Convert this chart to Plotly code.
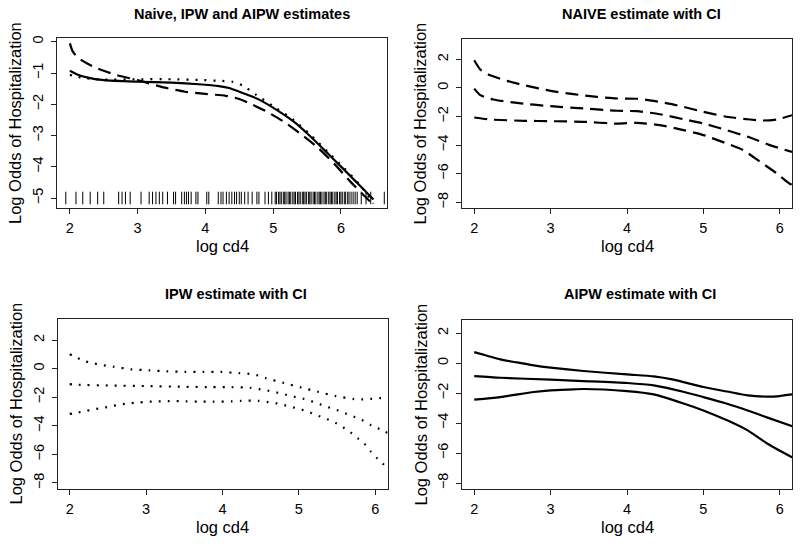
import plotly.graph_objects as go

W, H = 800, 546

# ---------------- data ----------------
x_ticks = [2, 3, 4, 5, 6]
y_ticks_p1 = [0, -1, -2, -3, -4, -5]
y_ticks_ci = [2, 0, -2, -4, -6, -8]

# Panel 1: Naive (dashed), IPW (dotted), AIPW (solid)
naive_x = [2.0, 2.04, 2.1, 2.2, 2.35, 2.5, 2.7, 3.0, 3.4, 3.7, 4.0, 4.3, 4.5, 4.7, 4.9, 5.15, 5.4, 5.65, 5.9, 6.15, 6.4, 6.46]
naive_y = [-0.05, -0.3, -0.47, -0.63, -0.8, -0.93, -1.07, -1.23, -1.47, -1.6, -1.67, -1.73, -1.83, -2.02, -2.23, -2.55, -2.94, -3.37, -3.9, -4.5, -5.05, -5.17]

aipw_x = [2.0, 2.1, 2.25, 2.5, 3.0, 3.5, 3.9, 4.2, 4.35, 4.5, 4.65, 4.8, 5.05, 5.3, 5.55, 5.8, 6.05, 6.3, 6.48]
aipw_y = [-0.93, -1.04, -1.14, -1.23, -1.28, -1.31, -1.36, -1.42, -1.48, -1.6, -1.72, -1.86, -2.18, -2.55, -3.03, -3.56, -4.1, -4.65, -5.05]

ipw_x = [2.0, 2.1, 2.25, 2.45, 3.0, 3.5, 3.9, 4.2, 4.4, 4.55, 4.75, 5.05, 5.3, 5.55, 5.8, 6.05, 6.3, 6.48]
ipw_y = [-1.06, -1.12, -1.17, -1.21, -1.2, -1.2, -1.22, -1.25, -1.28, -1.4, -1.7, -2.13, -2.5, -2.98, -3.51, -4.05, -4.63, -5.18]

rug_level = -5
rug_x = [1.94, 2.09, 2.19, 2.30, 2.41, 2.50,
         2.72, 2.77, 2.82, 2.89, 3.05, 3.17, 3.22, 3.27, 3.32, 3.37, 3.44, 3.53, 3.56,
         3.65, 3.69, 3.72, 3.75, 3.79, 3.86, 3.89, 4.02, 4.05, 4.19, 4.23, 4.26, 4.31,
         4.35, 4.39, 4.43, 4.46, 4.50, 4.53, 4.58, 4.63, 4.69, 4.76, 4.79, 4.88, 4.93,
         4.98, 5.03, 5.05, 5.08, 5.10, 5.12, 5.15, 5.17, 5.19, 5.22, 5.24, 5.26, 5.29,
         5.31, 5.33, 5.36, 5.38, 5.40, 5.43, 5.45, 5.47, 5.49, 5.52, 5.54, 5.56, 5.59,
         5.61, 5.63, 5.66, 5.68, 5.70, 5.72, 5.75, 5.77, 5.79, 5.82, 5.84, 5.86, 5.88,
         5.91, 5.93, 5.95, 5.98, 6.00, 6.02, 6.05, 6.07, 6.10, 6.12, 6.15, 6.18, 6.21,
         6.24, 6.30, 6.37, 6.44, 6.64]

# Panel 2: NAIVE estimate with CI
nv_up_x = [2.0, 2.08, 2.21, 2.43, 2.65, 3.0, 3.3, 3.61, 3.87, 4.13, 4.35, 4.65, 5.0, 5.3, 5.61, 5.78, 5.96, 6.16]
nv_up_y = [1.93, 1.28, 0.88, 0.49, 0.19, -0.21, -0.44, -0.63, -0.74, -0.76, -0.91, -1.21, -1.67, -2.02, -2.21, -2.28, -2.21, -1.91]
nv_mid_x = [2.0, 2.08, 2.25, 2.56, 3.0, 3.43, 3.87, 4.13, 4.43, 4.74, 5.0, 5.3, 5.61, 5.87, 6.16]
nv_mid_y = [-0.05, -0.51, -0.81, -1.05, -1.28, -1.44, -1.6, -1.63, -1.84, -2.19, -2.49, -2.95, -3.47, -4.0, -4.48]
nv_lo_x = [2.0, 2.21, 2.65, 3.0, 3.43, 3.87, 4.13, 4.43, 4.74, 5.0, 5.3, 5.52, 5.74, 5.96, 6.11, 6.16]
nv_lo_y = [-2.07, -2.21, -2.3, -2.33, -2.37, -2.5, -2.44, -2.6, -2.95, -3.3, -3.88, -4.35, -5.16, -5.98, -6.63, -6.8]

# Panel 3: IPW estimate with CI
ip_up_x = [2.0, 2.11, 2.22, 2.33, 2.45, 2.57, 2.8, 3.04, 3.27, 3.51, 3.75, 3.98, 4.22, 4.33, 4.45, 4.57, 4.8, 5.03, 5.25, 5.48, 5.72, 5.83, 5.95, 6.07, 6.16]
ip_up_y = [1.0, 0.72, 0.49, 0.35, 0.23, 0.14, -0.05, -0.12, -0.19, -0.23, -0.23, -0.23, -0.32, -0.35, -0.46, -0.67, -1.0, -1.32, -1.62, -1.92, -2.13, -2.15, -2.11, -2.06, -2.0]
ip_mid_x = [2.0, 2.12, 2.5, 3.0, 3.5, 3.86, 4.12, 4.36, 4.48, 4.6, 4.71, 4.83, 4.94, 5.06, 5.17, 5.28, 5.39, 5.51, 5.62, 5.73, 5.84, 5.94, 6.05, 6.16]
ip_mid_y = [-1.09, -1.13, -1.18, -1.22, -1.27, -1.3, -1.3, -1.34, -1.44, -1.55, -1.67, -1.83, -1.97, -2.11, -2.29, -2.5, -2.71, -2.92, -3.15, -3.38, -3.63, -3.94, -4.21, -4.49]
ip_lo_x = [2.0, 2.12, 2.23, 2.35, 2.47, 2.58, 2.7, 2.81, 2.92, 3.05, 3.17, 3.29, 3.4, 3.52, 3.75, 3.88, 4.12, 4.24, 4.47, 4.59, 4.71, 4.82, 4.94, 5.05, 5.16, 5.27, 5.38, 5.49, 5.59, 5.69, 5.78, 5.87, 5.94, 6.02, 6.11, 6.16]
ip_lo_y = [-3.17, -3.06, -2.94, -2.82, -2.71, -2.59, -2.48, -2.41, -2.36, -2.31, -2.29, -2.27, -2.27, -2.29, -2.31, -2.31, -2.29, -2.25, -2.25, -2.34, -2.43, -2.57, -2.73, -2.89, -3.1, -3.33, -3.56, -3.82, -4.14, -4.51, -4.91, -5.32, -5.79, -6.25, -6.71, -6.95]

# Panel 4: AIPW estimate with CI
ai_up_x = [2.0, 2.17, 2.34, 2.56, 2.78, 3.0, 3.43, 4.0, 4.35, 4.61, 5.0, 5.31, 5.58, 5.84, 6.0, 6.17]
ai_up_y = [0.73, 0.49, 0.24, 0.04, -0.16, -0.31, -0.53, -0.76, -0.89, -1.11, -1.6, -1.9, -2.16, -2.24, -2.2, -2.09]
ai_mid_x = [2.0, 2.34, 3.0, 3.43, 4.0, 4.35, 4.75, 5.0, 5.31, 5.58, 5.84, 6.17]
ai_mid_y = [-0.87, -0.98, -1.11, -1.2, -1.33, -1.49, -1.93, -2.27, -2.71, -3.16, -3.64, -4.22]
ai_lo_x = [2.0, 2.34, 2.78, 3.0, 3.3, 3.43, 4.0, 4.35, 4.75, 5.0, 5.31, 5.58, 5.84, 6.17]
ai_lo_y = [-2.44, -2.27, -1.93, -1.82, -1.76, -1.73, -1.87, -2.09, -2.71, -3.16, -3.82, -4.49, -5.38, -6.31]

titles = ["Naive, IPW and AIPW estimates", "NAIVE estimate with CI",
          "IPW estimate with CI", "AIPW estimate with CI"]
x_label = "log cd4"
y_label = "Log Odds of Hospitalization"

# ---------------- layout geometry (pixels) ----------------
FONT = "Liberation Sans, Arial, Helvetica, sans-serif"
panels = [
    dict(box=(57, 387, 38, 208), xr=[1.81, 6.68], yr=[-5.32, 0.12], yt=y_ticks_p1,
         title_xy=(242, 14)),
    dict(box=(462, 792, 39, 208), xr=[1.84, 6.16], yr=[-8.4, 3.42], yt=y_ticks_ci,
         title_xy=(641, 14)),
    dict(box=(57.5, 387.5, 319, 489), xr=[1.84, 6.16], yr=[-8.42, 3.47], yt=y_ticks_ci,
         title_xy=(236, 294)),
    dict(box=(462, 792, 320, 489), xr=[1.84, 6.16], yr=[-8.4, 2.87], yt=y_ticks_ci,
         title_xy=(640, 294)),
]

def px2x(px):
    return px / W

def px2y(py):
    return 1 - py / H

fig = go.Figure()

DASH = "13px,7px"
DOT = "2px,7px"
LW = 2.2

def add_line(xs, ys, idx, dash):
    ax = "" if idx == 0 else str(idx + 1)
    fig.add_trace(go.Scatter(
        x=xs, y=ys, mode="lines",
        line=dict(color="black", width=LW, dash=dash, shape="spline", smoothing=0.6),
        xaxis="x" + ax, yaxis="y" + ax, showlegend=False, hoverinfo="skip"))

# panel 1
add_line(naive_x, naive_y, 0, DASH)
add_line(ipw_x, ipw_y, 0, DOT)
add_line(aipw_x, aipw_y, 0, "solid")
fig.add_trace(go.Scatter(
    x=rug_x, y=[rug_level] * len(rug_x), mode="markers",
    marker=dict(symbol="line-ns", size=9, color="black",
                line=dict(color="black", width=1)),
    xaxis="x", yaxis="y", showlegend=False, hoverinfo="skip"))
# panel 2
add_line(nv_up_x, nv_up_y, 1, DASH)
add_line(nv_mid_x, nv_mid_y, 1, DASH)
add_line(nv_lo_x, nv_lo_y, 1, DASH)
# panel 3
add_line(ip_up_x, ip_up_y, 2, DOT)
add_line(ip_mid_x, ip_mid_y, 2, DOT)
add_line(ip_lo_x, ip_lo_y, 2, DOT)
# panel 4
add_line(ai_up_x, ai_up_y, 3, "solid")
add_line(ai_mid_x, ai_mid_y, 3, "solid")
add_line(ai_lo_x, ai_lo_y, 3, "solid")

layout = dict(
    width=W, height=H,
    margin=dict(l=0, r=0, t=0, b=0),
    paper_bgcolor="white", plot_bgcolor="white",
    font=dict(family=FONT, color="black"),
    showlegend=False,
    hovermode=False,
)

axis_common = dict(
    showline=True, mirror=True, linecolor="#222", linewidth=1,
    ticks="outside", ticklen=5, tickwidth=1, tickcolor="#222",
    showgrid=False, zeroline=False, automargin=False, fixedrange=True,
    tickfont=dict(family=FONT, size=14.5, color="black"),
)

annotations = []
for i, p in enumerate(panels):
    l, r, t, b = p["box"]
    sfx = "" if i == 0 else str(i + 1)
    layout["xaxis" + sfx] = dict(
        axis_common, domain=[px2x(l), px2x(r)], range=p["xr"],
        tickvals=x_ticks, ticktext=[str(v) for v in x_ticks],
        anchor="y" + sfx, ticklabelstandoff=2)
    layout["yaxis" + sfx] = dict(
        axis_common, domain=[px2y(b), px2y(t)], range=p["yr"],
        tickvals=p["yt"], ticktext=[("\u2212" + str(-v)) if v < 0 else str(v) for v in p["yt"]],
        tickangle=-90, anchor="x" + sfx, ticklabelstandoff=2)
    tx, ty = p["title_xy"]
    annotations.append(dict(
        text="<b>" + titles[i] + "</b>", x=px2x(tx), y=px2y(ty),
        xref="paper", yref="paper", showarrow=False,
        xanchor="center", yanchor="middle",
        font=dict(family=FONT, size=14.5, color="black")))
    annotations.append(dict(
        text=x_label, x=px2x((l + r) / 2), y=px2y(b + 38),
        xref="paper", yref="paper", showarrow=False,
        xanchor="center", yanchor="middle",
        font=dict(family=FONT, size=16.5, color="black")))
    annotations.append(dict(
        text=y_label, x=px2x(l - 42), y=px2y((t + b) / 2),
        xref="paper", yref="paper", showarrow=False, textangle=-90,
        xanchor="center", yanchor="middle",
        font=dict(family=FONT, size=16.5, color="black")))

layout["annotations"] = annotations
fig.update_layout(**layout)

# remove the default 8px page margin so the figure fills the window exactly
fig.write_html("out.html",
               config={"displayModeBar": False, "staticPlot": True},
               post_script="document.body.style.margin='0';document.body.style.overflow='hidden';")
